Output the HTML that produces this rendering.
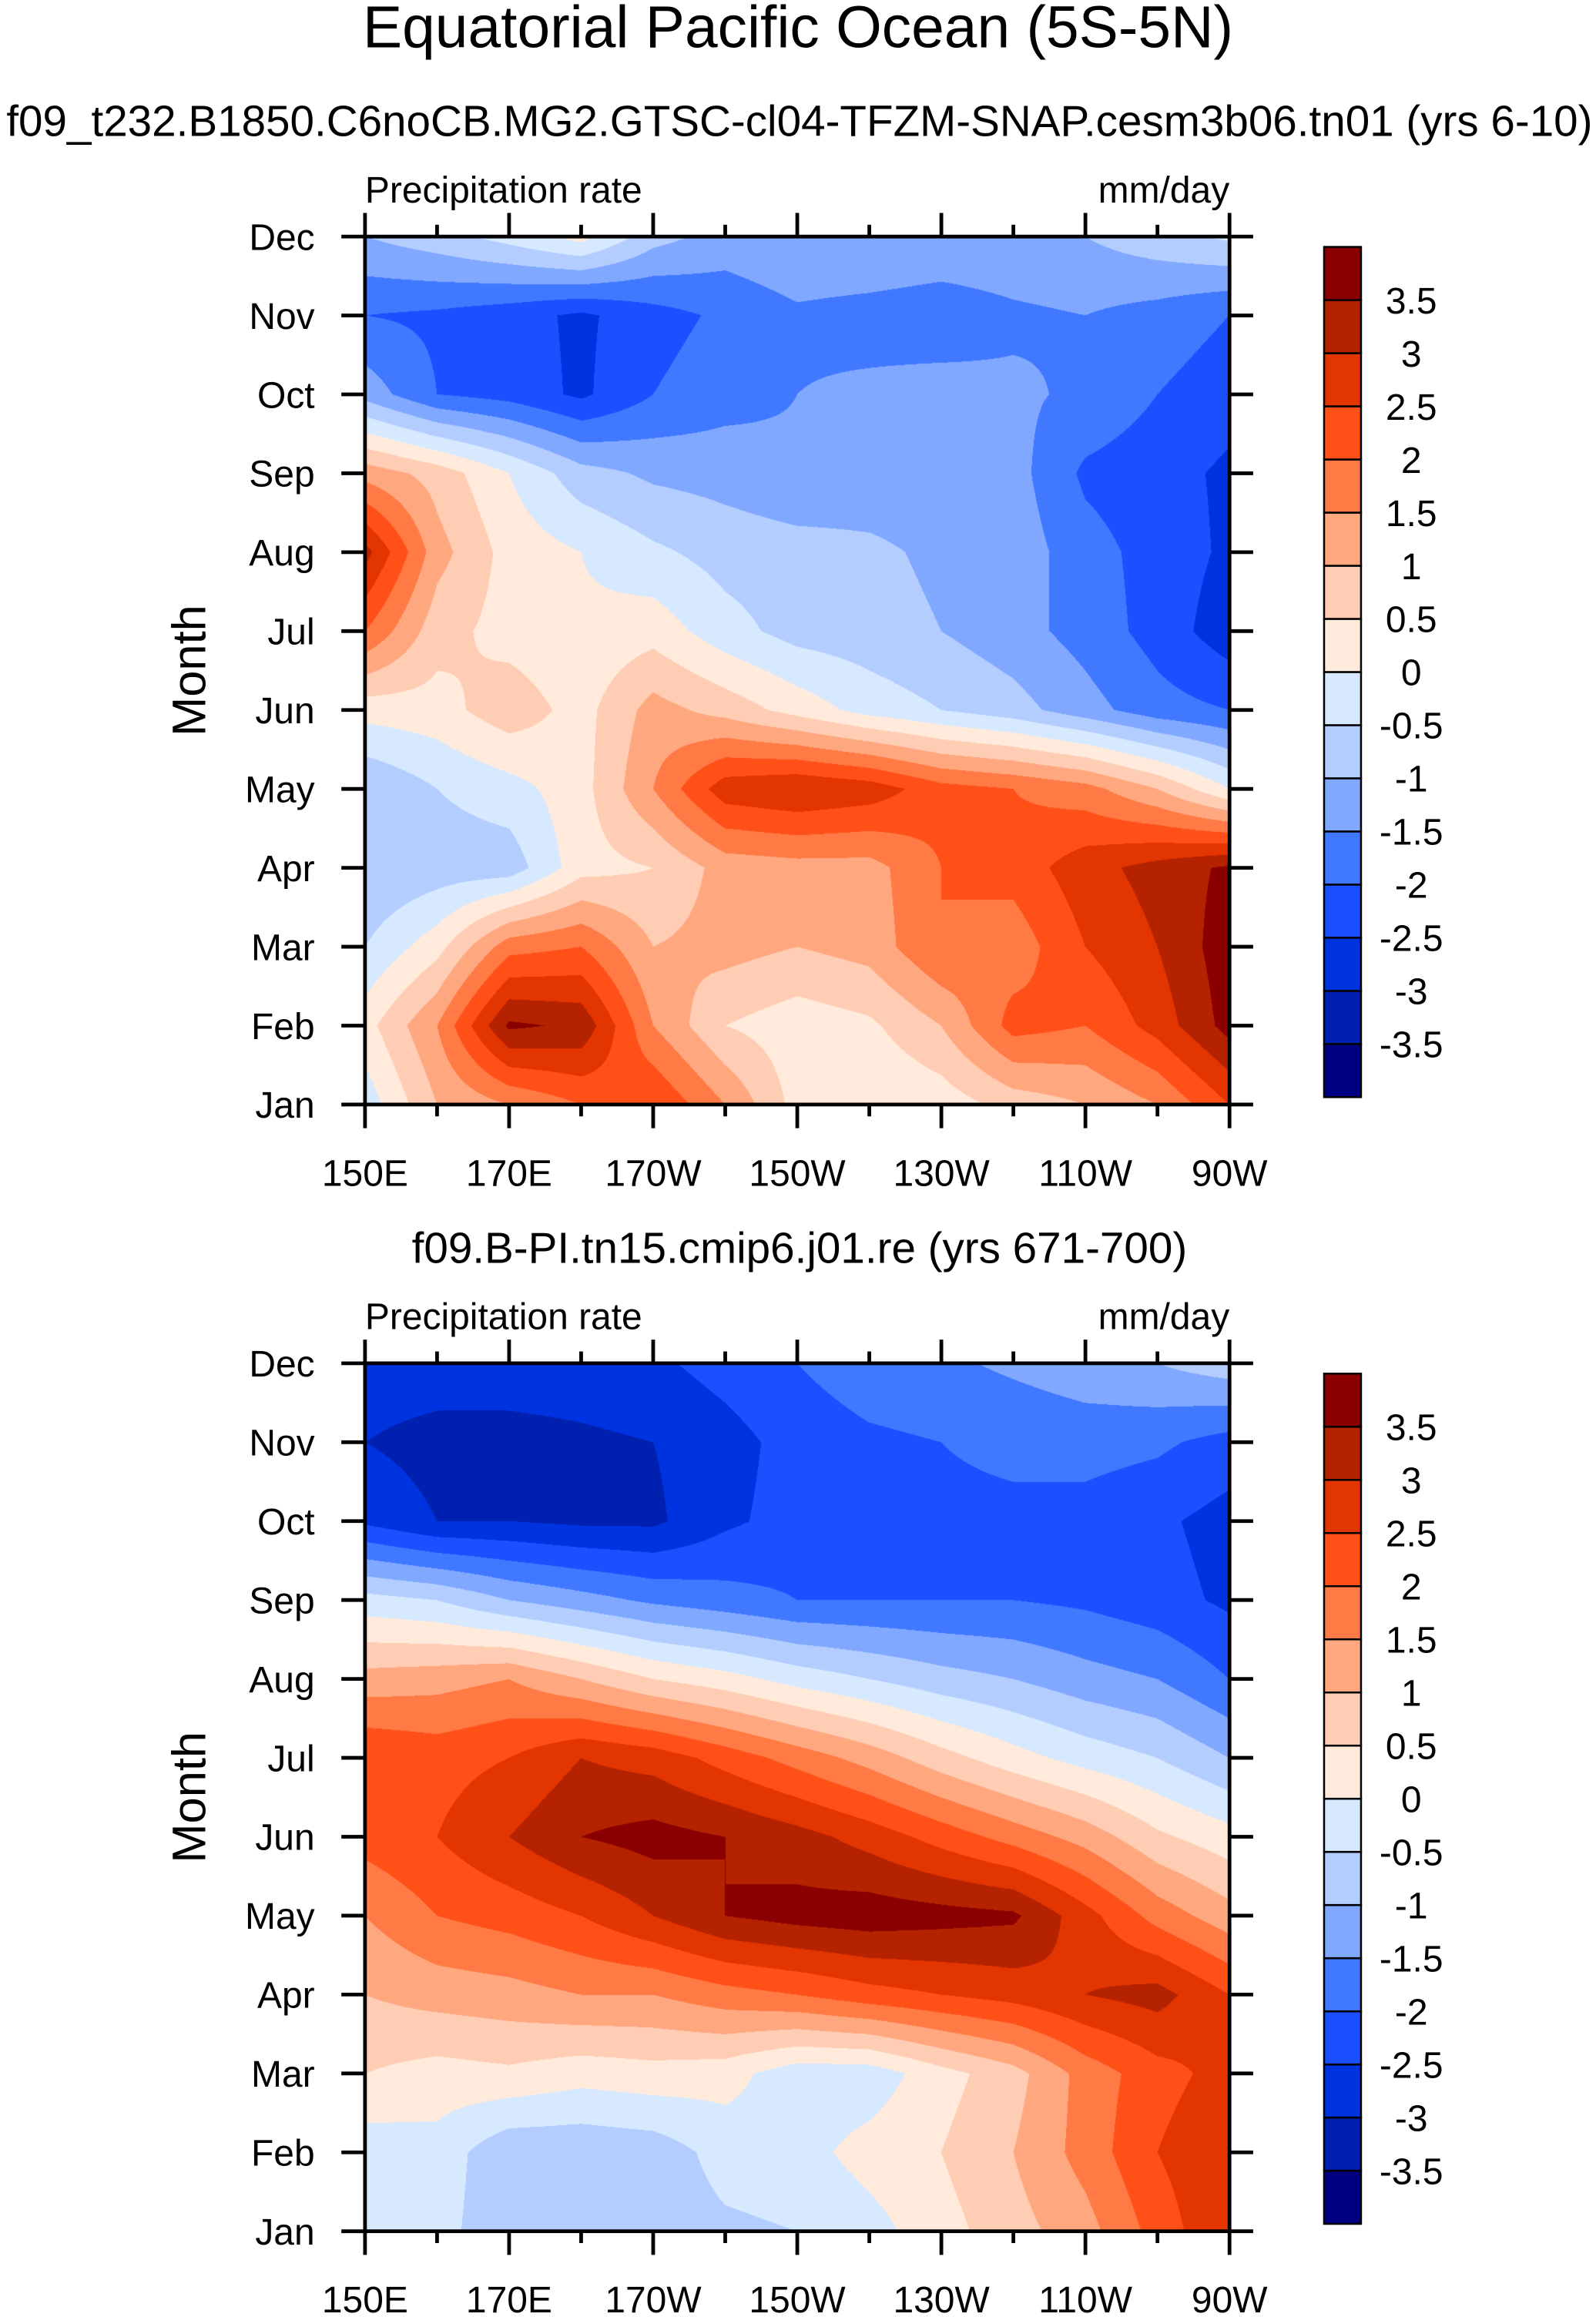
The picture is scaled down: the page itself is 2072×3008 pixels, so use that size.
<!DOCTYPE html>
<html><head><meta charset="utf-8"><style>
html,body{margin:0;padding:0;background:#fff}
#wrap{position:relative;width:2072px;height:3008px;overflow:hidden;background:#fff}
canvas{position:absolute}
svg{position:absolute;left:0;top:0}
text{font-family:"Liberation Sans",sans-serif;fill:#000}
</style></head><body>
<div id="wrap">
<canvas id="c1"></canvas>
<canvas id="c2"></canvas>
<svg id="s" width="2072" height="3008" viewBox="0 0 1080 1567" preserveAspectRatio="none"></svg>
</div>
<script>
const months=["Jan","Feb","Mar","Apr","May","Jun","Jul","Aug","Sep","Oct","Nov","Dec"];
const lonLabels=["150E","170E","170W","150W","130W","110W","90W"];
const levels=[-3.5,-3,-2.5,-2,-1.5,-1,-0.5,0,0.5,1,1.5,2,2.5,3,3.5];
const levelLabels=["-3.5","-3","-2.5","-2","-1.5","-1","-0.5","0","0.5","1","1.5","2","2.5","3","3.5"];
const colors=["#000080","#0020b0","#0033e0","#1a50ff","#4078ff","#80a8ff","#b4cdff","#d6e9ff","#ffeadb","#ffcdb4","#ffa880","#ff7a44","#ff5018","#e33500","#b52200","#8a0000"];
// rows Jan..Dec, columns 150E..90W every 10 deg
const topData=[
[-0.3,1,1.5,2,2.5,1.5,0.3,0,0.2,0.7,1,1.5,2.5],
[0.3,1.5,3.6,3.4,1.5,0.5,0.2,0.4,1,2.2,2,2.7,3.7],
[-0.5,0.3,1.8,2,1,1.2,1,1.2,2,1.7,2.5,3,3.8],
[-1,-0.8,-0.8,0.3,0.5,1.2,1.3,1.3,2,2.2,2.8,3.2,3.6],
[-1,-0.5,-0.2,0.3,1.5,2.8,3,2.8,2.2,2,1.7,1,0],
[0.2,0.3,0.8,0.3,1.2,0.8,0.3,-0.2,-0.5,-0.8,-1.3,-1.8,-2],
[2,0.7,0.3,0.1,0.3,-0.3,-0.7,-0.8,-1,-1.3,-1.7,-2.2,-2.8],
[3.2,1.2,0.3,0,-0.4,-0.7,-0.8,-0.9,-1.1,-1.2,-1.8,-2.2,-2.6],
[1.3,0.8,0,-0.8,-1.1,-1.2,-1.4,-1.3,-1.3,-1.3,-2.1,-2.3,-2.6],
[-1.2,-2,-2.2,-2.6,-2,-1.7,-1.5,-1.4,-1.3,-1.4,-1.6,-2,-2.3],
[-2,-2.1,-2.3,-2.6,-2.2,-1.9,-1.6,-1.7,-1.8,-1.6,-1.5,-1.7,-2],
[-1,-0.7,-0.3,0.2,-0.8,-1.2,-1,-1,-1.1,-1.1,-1,-0.7,-0.4]];
const botData=[
[-0.3,-0.3,-0.9,-0.9,-0.8,-0.6,-0.5,-0.2,0.3,0.8,1.3,2.2,3],
[-0.3,-0.2,-0.9,-0.9,-0.8,-0.3,-0.2,0.2,0.5,1,1.7,2.5,3],
[0.5,0.3,0.4,0.2,0.3,0.2,-0.3,-0.3,0.3,0.8,1.7,2.3,2.7],
[1,1.2,1.3,1.5,1.5,1.8,2,2.3,2.5,2.7,3,3.2,2.5],
[1.5,2,2.2,2.5,3,3.5,3.7,3.8,3.7,3.6,2.7,1.8,1.2],
[2.2,2.5,3,3.5,3.7,3.5,3.2,2.8,2.3,1.8,1.3,0.6,0.2],
[2.5,2.3,2.5,3,2.8,2.3,1.8,1.3,0.7,0.2,-0.2,-0.5,-1],
[1.2,1.3,1.5,1,0.5,0.2,-0.2,-0.5,-0.8,-1,-1.3,-1.5,-2],
[-0.3,-0.5,-1,-1.3,-1.6,-1.8,-2,-2,-2,-2,-2.1,-2.3,-2.6],
[-2.6,-3,-3,-3.1,-3.1,-2.6,-2.3,-2.1,-2.1,-2.1,-2.2,-2.4,-2.7],
[-3,-3.2,-3.2,-3.1,-3,-2.7,-2.3,-2.1,-2,-1.9,-1.8,-1.9,-2.2],
[-2.7,-2.7,-2.7,-2.7,-2.6,-2.3,-2,-1.7,-1.6,-1.4,-1.2,-1,-0.7]];

const SX=2072/1080, SY=3008/1567;
const X0=247,X1=832;
const NS="http://www.w3.org/2000/svg";
const svg=document.getElementById('s');
function el(tag,attrs,txt){const e=document.createElementNS(NS,tag);for(const k in attrs)e.setAttribute(k,attrs[k]);if(txt!==undefined)e.textContent=txt;svg.appendChild(e);return e;}
function hex(c){return [parseInt(c.slice(1,3),16),parseInt(c.slice(3,5),16),parseInt(c.slice(5,7),16)];}
const rgb=colors.map(hex);
function colorIdx(v){let i=0;while(i<levels.length&&v>=levels[i])i++;return i;}
function xScale(lonIdx){return X0+(X1-X0)*lonIdx/12;}

function drawPanel(cid,data,Y0,Y1,cbTop,cbBot,subtitle,subY,subSize,pfx){
  const cv=document.getElementById(cid);
  const L=Math.round(X0*SX),T=Math.round(Y0*SY),W=Math.round((X1-X0)*SX),H=Math.round((Y1-Y0)*SY);
  cv.width=W;cv.height=H;cv.style.left=L+'px';cv.style.top=T+'px';
  const ctx=cv.getContext('2d');const img=ctx.createImageData(W,H);
  const nc=data[0].length,nr=data.length;
  for(let py=0;py<H;py++){
    const fy=(1-(py+0.5)/H)*(nr-1);let r0=Math.floor(fy);if(r0>=nr-1)r0=nr-2;const ty=fy-r0;
    for(let px=0;px<W;px++){
      const fx=(px+0.5)/W*(nc-1);let c0=Math.floor(fx);if(c0>=nc-1)c0=nc-2;const tx=fx-c0;
      const v=(data[r0][c0]*(1-tx)+data[r0][c0+1]*tx)*(1-ty)+(data[r0+1][c0]*(1-tx)+data[r0+1][c0+1]*tx)*ty;
      const c=rgb[colorIdx(v)];const o=(py*W+px)*4;
      img.data[o]=c[0];img.data[o+1]=c[1];img.data[o+2]=c[2];img.data[o+3]=255;
    }
  }
  ctx.putImageData(img,0,0);
  el('text',{x:541,y:subY,'font-size':subSize,'text-anchor':'middle',},subtitle);
  el('text',{x:X0,y:Y0-23,'font-size':25,},"Precipitation rate");
  el('text',{x:X1,y:Y0-23,'font-size':25,'text-anchor':'end',},"mm/day");
  el('text',{x:0,y:0,'font-size':32,'text-anchor':'middle',transform:`translate(139,${(Y0+Y1)/2}) rotate(-90)`,},"Month");
  el('rect',{x:X0,y:Y0,width:X1-X0,height:Y1-Y0,fill:'none',stroke:'#000','stroke-width':2.5,});
  const yS=i=>Y1-(Y1-Y0)*i/11;
  months.forEach((m,i)=>{
    const y=yS(i);
    el('line',{x1:X0-16,y1:y,x2:X0,y2:y,stroke:'#000','stroke-width':2.5,});
    el('line',{x1:X1,y1:y,x2:X1+16,y2:y,stroke:'#000','stroke-width':2.5,});
    el('text',{x:X0-34,y:y+9,'font-size':25,'text-anchor':'end',},m);
  });
  for(let k=0;k<=12;k++){
    const x=xScale(k),maj=k%2===0,len=maj?16:8;
    el('line',{x1:x,y1:Y1,x2:x,y2:Y1+len,stroke:'#000','stroke-width':2.5,});
    el('line',{x1:x,y1:Y0-len,x2:x,y2:Y0,stroke:'#000','stroke-width':2.5,});
    if(maj)el('text',{x:x,y:Y1+55,'font-size':25,'text-anchor':'middle',},lonLabels[k/2]);
  }
  const n=colors.length,bh=(cbBot-cbTop)/n;
  colors.forEach((c,i)=>{
    el('rect',{x:896,y:cbBot-(i+1)*bh,width:25,height:bh,fill:c,stroke:'#000','stroke-width':1.3,});
  });
  levelLabels.forEach((t,i)=>{
    el('text',{x:955,y:cbBot-(i+1)*bh+9,'font-size':25,'text-anchor':'middle',},t);
  });
}
el('text',{x:540,y:32,'font-size':40,'text-anchor':'middle',},"Equatorial Pacific Ocean (5S-5N)");
drawPanel('c1',topData,160,747,167,742,"f09_t232.B1850.C6noCB.MG2.GTSC-cl04-TFZM-SNAP.cesm3b06.tn01 (yrs 6-10)",92,29.5,'top');
drawPanel('c2',botData,922,1509,929,1504,"f09.B-PI.tn15.cmip6.j01.re (yrs 671-700)",854,29.5,'bottom');
</script>
</body></html>
